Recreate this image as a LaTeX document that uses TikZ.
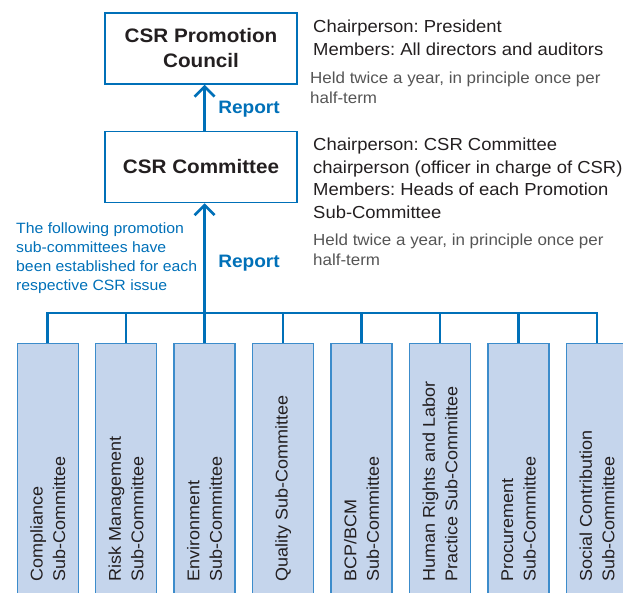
\documentclass[tikz,border=0pt]{standalone}
\usepackage{fontspec}
\setmainfont{Liberation Sans}[FakeStretch=1.06]
\usetikzlibrary{arrows.meta,positioning}
\definecolor{csrblue}{RGB}{0,112,184}
\definecolor{subfill}{RGB}{197,213,236}
\definecolor{subline}{RGB}{60,140,203}
\definecolor{txtgray}{RGB}{85,85,85}
\definecolor{txtdark}{RGB}{35,31,32}
\newcommand{\fsz}[2]{\fontsize{#1}{#2}\selectfont}
\frenchspacing

\begin{document}
\begin{tikzpicture}[x=1pt,y=-1pt,
    mainbox/.style={draw=csrblue, line width=1.6pt, minimum width=192pt,
                    minimum height=71pt, align=center,
                    font=\fsz{19.5}{25}\bfseries, text=txtdark},
    subbox/.style={draw=subline, fill=subfill, line width=1.3pt,
                   minimum width=61pt, minimum height=260pt, inner sep=0pt},
    sublabel/.style={rotate=90, anchor=west, align=left, inner sep=0pt,
                     font=\fsz{17}{22.5}, text=txtdark},
    info/.style={anchor=north west, align=left, inner sep=0pt,
                 font=\fsz{17.4}{22.7}, text=txtdark},
    held/.style={anchor=north west, align=left, inner sep=0pt,
                 font=\fsz{16}{20}, text=txtgray},
    report/.style={font=\fsz{18}{20}\bfseries, text=csrblue},
    link/.style={draw=csrblue, line width=2.6pt},
    up/.style={link, -{Straight Barb[length=10pt,width=20pt]}},
]
  \path[use as bounding box] (0,0) rectangle (623,593);
  \clip (0,0) rectangle (623,593);

  % Council and committee
  \node[mainbox] (council) at (201,48.5) {CSR Promotion\\Council};
  \node[mainbox] (committee) at (201,167) {CSR Committee};

  % Notes on the right
  \node[info] (info1) at (313,19.5) {Chairperson: President\\Members: All directors and auditors};
  \node[held] (held1) at (310,72) {Held twice a year, in principle once per\\half-term};
  \node[info] (info2) at (313,137.5) {Chairperson: CSR Committee\\chairperson (officer in charge of CSR)\\Members: Heads of each Promotion\\Sub-Committee};
  \node[held] (held2) at (313,234) {Held twice a year, in principle once per\\half-term};

  \node[anchor=north west, align=left, inner sep=0pt, font=\fsz{14.9}{19},
        text=csrblue] (note) at (16,223)
    {The following promotion\\sub-committees have\\been established for each\\respective CSR issue};

  % Sub-committees
  \foreach \txt [count=\n] in {{Compliance\\Sub-Committee},
      {Risk Management\\Sub-Committee}, {Environment\\Sub-Committee},
      {Quality Sub-Committee}, {BCP/BCM\\Sub-Committee},
      {Human Rights and Labor\\Practice Sub-Committee},
      {Procurement\\Sub-Committee}, {Social Contribution\\Sub-Committee}} {
    \node[subbox, anchor=north] (sub\n) at ({47.7+78.47*(\n-1)},343) {};
    \node[sublabel] (lab\n) at ({47.7+78.47*(\n-1)},582) {\txt};
  }

  % Report lines
  \coordinate (bus) at (204.6,313);
  \draw[link] (sub1.north) |- (sub8.north |- bus) -- (sub8.north);
  \foreach \n in {2,...,7}
    \draw[link] (sub\n.north) -- (sub\n.north |- bus);
  \draw[up] (bus) -- (bus |- committee.south);
  \draw[up] (bus |- committee.north) -- (bus |- council.south);

  \node[report] (rep1) at (249,109) {Report};
  \node[report] (rep2) at (249,263) {Report};
\end{tikzpicture}
\end{document}
